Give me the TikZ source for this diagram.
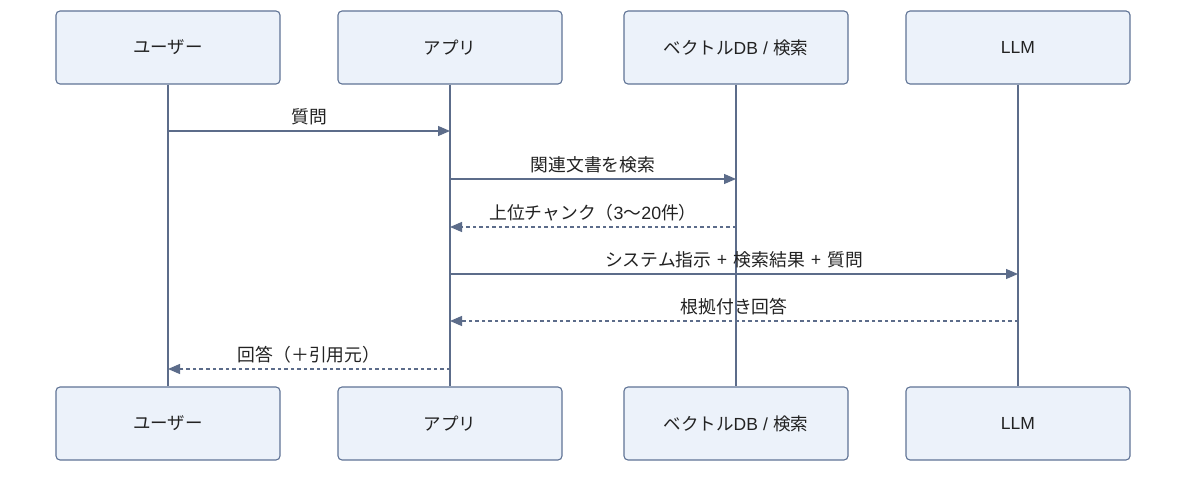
\documentclass[tikz,border=0pt]{standalone}
\usepackage{fontspec}
\setmainfont{Noto Sans CJK JP}
\newfontfamily\latinfont{Liberation Sans}
\usetikzlibrary{arrows.meta}
\definecolor{boxfill}{RGB}{236,242,250}
\definecolor{boxdraw}{RGB}{96,116,150}
\definecolor{linec}{RGB}{92,108,138}
\definecolor{txt}{RGB}{34,34,34}
\tikzset{
  actor/.style={draw=boxdraw, fill=boxfill, line width=1.1bp, rounded corners=4bp,
    minimum width=224bp, minimum height=73bp, inner sep=0pt, text=txt,
    font=\fontsize{17.5bp}{20bp}\selectfont},
  lifeline/.style={draw=linec, line width=1.5bp},
  msg/.style={draw=linec, line width=1.2bp, -{Triangle[length=12bp,width=10bp]}},
  reply/.style={msg, dash pattern=on 3.5bp off 3bp},
  lbl/.style={midway, yshift=14bp, text=txt, inner sep=0pt,
    font=\fontsize{17.8bp}{20bp}\selectfont}
}
\newcommand{\dbname}{ベクトル{\latinfont DB}\hspace{0.3em}{\latinfont /}\hspace{0.3em}検索}
\begin{document}
\begin{tikzpicture}[x=1bp, y=-1bp]
\useasboundingbox (0,0) rectangle (1200,478);
\fill[white] (0,0) rectangle (1200,478);
% top actors
\node[actor] (u)  at (168,47.5)   {ユーザー};
\node[actor] (a)  at (450,47.5)   {アプリ};
\node[actor] (d)  at (736,47.5)   {\dbname};
\node[actor] (l)  at (1018,47.5) {\latinfont LLM};
% bottom actors
\node[actor] (ub) at (168,423.5)   {ユーザー};
\node[actor] (ab) at (450,423.5)   {アプリ};
\node[actor] (db) at (736,423.5)   {\dbname};
\node[actor] (lb) at (1018,423.5) {\latinfont LLM};
% lifelines
\draw[lifeline] (u.south) -- (ub.north);
\draw[lifeline] (a.south) -- (ab.north);
\draw[lifeline] (d.south) -- (db.north);
\draw[lifeline] (l.south) -- (lb.north);
% message rows
\coordinate (m1) at (0,131);
\coordinate (m2) at (0,179);
\coordinate (m3) at (0,227);
\coordinate (m4) at (0,274);
\coordinate (m5) at (0,321);
\coordinate (m6) at (0,369);
\draw[msg]   (u.south |- m1) -- (a.south |- m1) node[lbl] {質問};
\draw[msg]   (a.south |- m2) -- (d.south |- m2) node[lbl] {関連文書を検索};
\draw[reply] (d.south |- m3) -- (a.south |- m3) node[lbl] {上位チャンク（{\latinfont 3}〜{\latinfont 20}件）};
\draw[msg]   (a.south |- m4) -- (l.south |- m4) node[lbl] {システム指示\hspace{0.35em}+\hspace{0.35em}検索結果\hspace{0.35em}+\hspace{0.35em}質問};
\draw[reply] (l.south |- m5) -- (a.south |- m5) node[lbl] {根拠付き回答};
\draw[reply] (a.south |- m6) -- (u.south |- m6) node[lbl] {回答（＋引用元）};
\end{tikzpicture}
\end{document}
